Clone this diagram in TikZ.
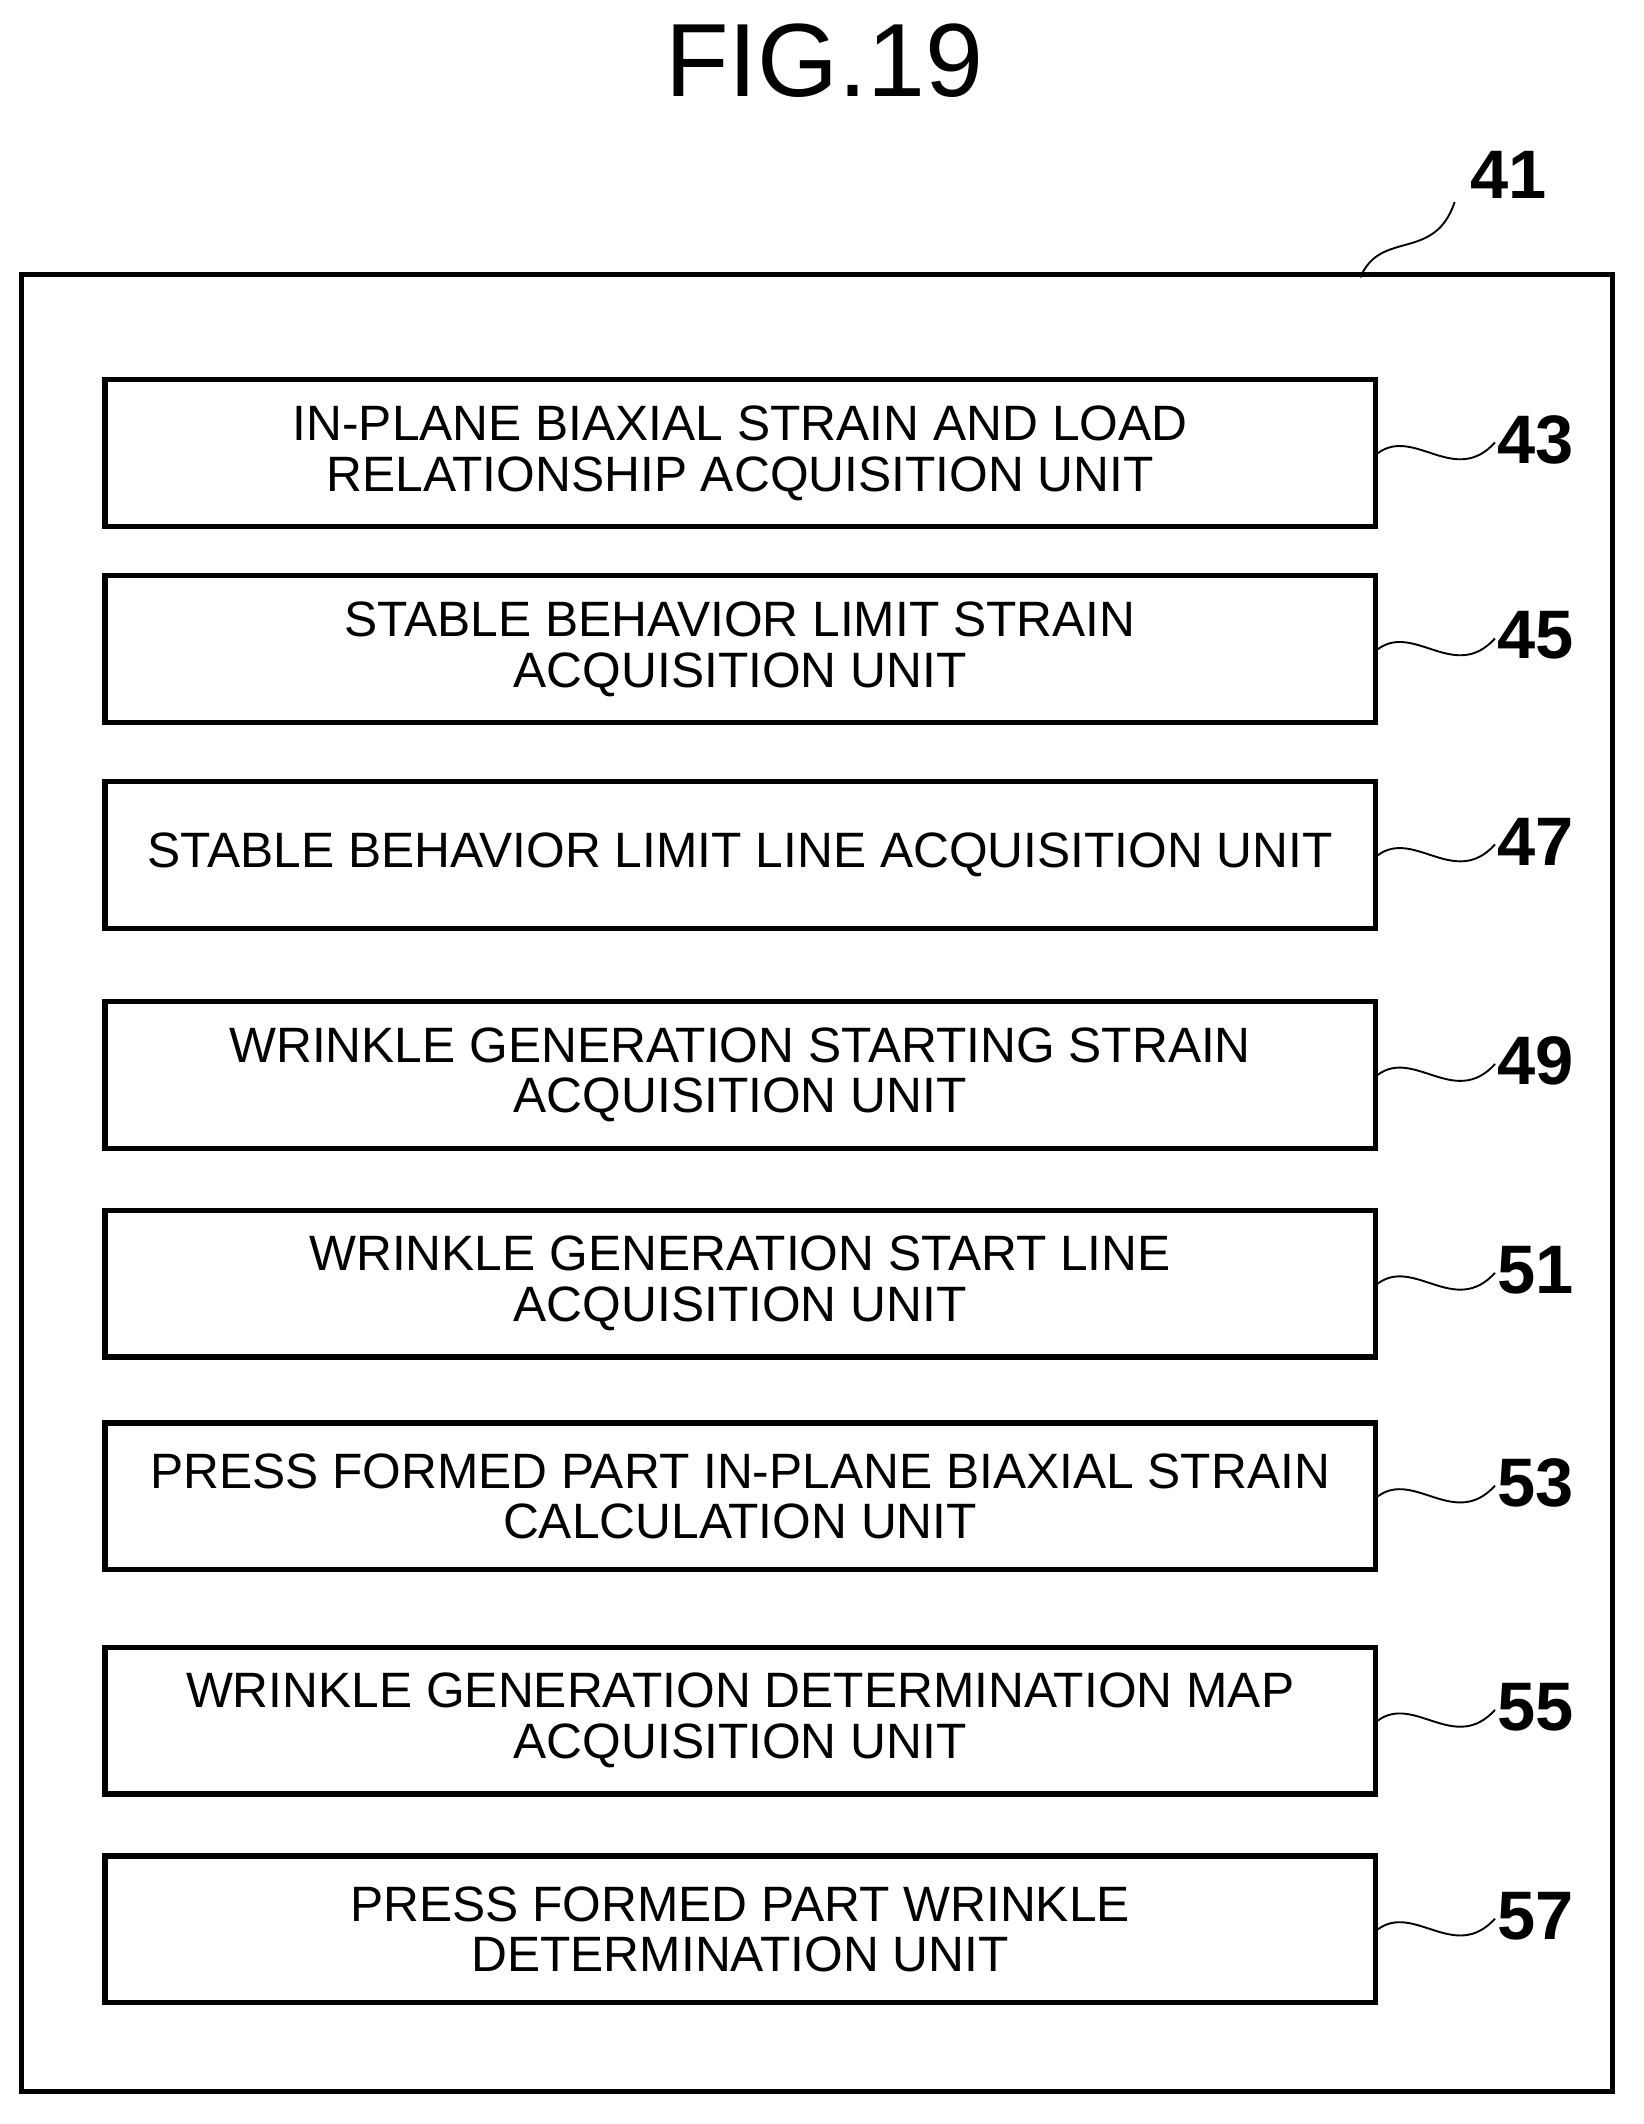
\documentclass[tikz,border=0pt]{standalone}
\usepackage{fontspec}
\setmainfont{Liberation Sans}
\begin{document}
\begin{tikzpicture}[x=0.02cm,y=-0.02cm,
  unit/.style={draw,line width=2.2pt,minimum width=943*0.02cm,minimum height=109*0.02cm,align=center,font=\fontsize{21}{21.5}\selectfont,inner sep=0pt},
  num/.style={font=\fontsize{29}{30}\selectfont\bfseries},
  lead/.style={line width=0.8pt}]
\useasboundingbox (0,0) rectangle (1220,1577);
\node[font=\fontsize{44}{48}\selectfont] (title) at (612,45) {FIG.19};
\node[draw,line width=2.2pt,minimum width=1181*0.02cm,minimum height=1349*0.02cm,inner sep=0pt] (outer) at (606.5,878.5) {};
\node[num] (n41) at (1120,130) {41};
\coordinate (o41) at (1010,206);
\draw[lead] (o41) .. controls (1025,170) and (1065,195) .. (1080,150);
\foreach \y/\t/\n/\nm in {
 336.5/{IN-PLANE BIAXIAL STRAIN AND LOAD\\RELATIONSHIP ACQUISITION UNIT}/43/a,
 482/{STABLE BEHAVIOR LIMIT STRAIN\\ACQUISITION UNIT}/45/b,
 635/{STABLE BEHAVIOR LIMIT LINE ACQUISITION UNIT}/47/c,
 798/{WRINKLE GENERATION STARTING STRAIN\\ACQUISITION UNIT}/49/d,
 953/{WRINKLE GENERATION START LINE\\ACQUISITION UNIT}/51/e,
 1111/{PRESS FORMED PART IN-PLANE BIAXIAL STRAIN\\CALCULATION UNIT}/53/f,
 1277.5/{WRINKLE GENERATION DETERMINATION MAP\\ACQUISITION UNIT}/55/g,
 1432.5/{PRESS FORMED PART WRINKLE\\DETERMINATION UNIT}/57/h}{
 \node[unit] (box\nm) at (549.5,\y) {\t};
 \node[num] (lab\nm) at (1140,\y-10) {\n};
 \draw[lead] (box\nm.east) .. controls (1050,\y-20) and (1080,\y+25) .. (1110,\y-8);
}
\end{tikzpicture}
\end{document}
